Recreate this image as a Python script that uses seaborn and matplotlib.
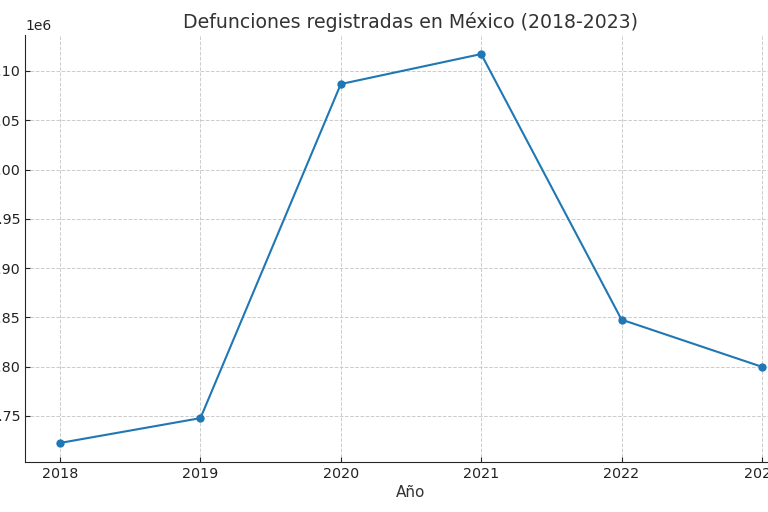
import pandas as pd
import matplotlib.pyplot as plt
import seaborn as sns

# 데이터: 연도별 사망자 수 (INEGI)
YEARS = [2018, 2019, 2020, 2021, 2022, 2023]
DEATHS = [722611, 747784, 1086743, 1117167, 847716, 799869]

sns.set_style("ticks", {
    "axes.grid": True,
    "grid.linestyle": "--",
    "grid.color": "#cccccc",
    "xtick.direction": "in",
    "ytick.direction": "in",
})
plt.rcParams["font.family"] = ["DejaVu Sans"]
plt.rcParams["grid.linewidth"] = 0.7


def main():
    df = pd.DataFrame({"Año": YEARS, "Defunciones": DEATHS})

    fig = plt.figure(figsize=(7.68, 5.12), dpi=100)
    # 원본 이미지처럼 좌우가 잘린 배치
    ax = fig.add_axes([25 / 768, 0.0969, 772 / 768, 0.8355])
    sns.lineplot(data=df, x="Año", y="Defunciones", marker="o", color="#1f77b4",
                 markersize=6, markeredgewidth=0, linewidth=1.5, ax=ax)

    ax.set_xticks(YEARS)
    ax.set_title("Defunciones registradas en México (2018-2023)", fontsize=13.6,
                 color="#333333", pad=4.5)
    ax.set_xlabel("Año", fontsize=11, color="#333333", labelpad=3)
    ax.set_ylabel("")
    ax.tick_params(labelsize=10.3, colors="#222222")
    ax.yaxis.get_offset_text().set_fontsize(10)
    sns.despine(ax=ax)

    fig.savefig("out.png", dpi=100)
    plt.close(fig)


if __name__ == "__main__":
    main()
